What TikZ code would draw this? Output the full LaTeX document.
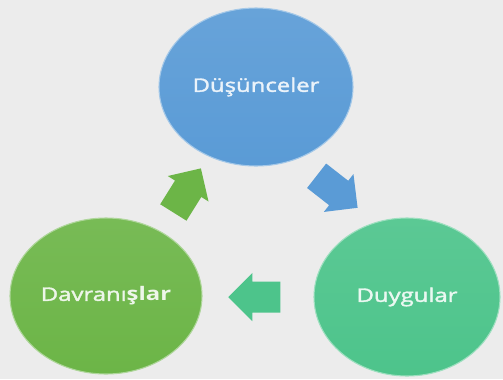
\documentclass[tikz,border=0pt]{standalone}
\usepackage{fontspec}
\newfontfamily\bubblefont[FakeStretch=1.28, UprightFeatures={FakeBold=2}]{Open Sans}
\usetikzlibrary{shapes.geometric,shapes.arrows}

\definecolor{pagegray}{HTML}{ECECEC}
\definecolor{thinkblue}{HTML}{5A9BD6}
\definecolor{actgreen}{HTML}{6CB547}
\definecolor{feelteal}{HTML}{4DC48B}

\tikzset{every picture/.style={line width=0.75pt}}
\tikzset{
  bubble/.style={ellipse, inner sep=0pt, top color=white!8!#1, bottom color=#1,
    draw=white!45!#1, line width=0.8pt, text=white!88!#1,
    font=\bubblefont\fontsize{14}{16}\selectfont},
  turnarrow/.style={single arrow, inner xsep=0pt, inner ysep=11.25pt, minimum height=39pt,
    single arrow head extend=6.4pt, fill=#1, draw=none}
}

\begin{document}
\begin{tikzpicture}[x=0.75pt,y=0.75pt,yscale=-1,xscale=1]
%set diagram left start at 0, and has height of 379
\useasboundingbox (0,0) rectangle (503,379);
\fill [pagegray] (0,0) rectangle (503,379);

%Ellipse
\draw (256,87) node [bubble=thinkblue, minimum width=145.5pt, minimum height=118.5pt] (dus) {Düşünceler};
%Ellipse
\draw (407,297) node [bubble=feelteal, minimum width=139.5pt, minimum height=118.5pt] (duy) {Duygular};
%Ellipse
\draw (106,296) node [bubble=actgreen, minimum width=144pt, minimum height=117pt] (dav) {Davranı\textbf{şlar}};

%Block Arrow
\draw (331,187) node [turnarrow=thinkblue, rotate=-38] (dus2duy) {};
%Block Arrow
\draw (262,297) node [turnarrow=feelteal, rotate=180] (duy2dav) {};
%Block Arrow
\draw (183,197) node [turnarrow=actgreen, rotate=58] (dav2dus) {};

\end{tikzpicture}
\end{document}
